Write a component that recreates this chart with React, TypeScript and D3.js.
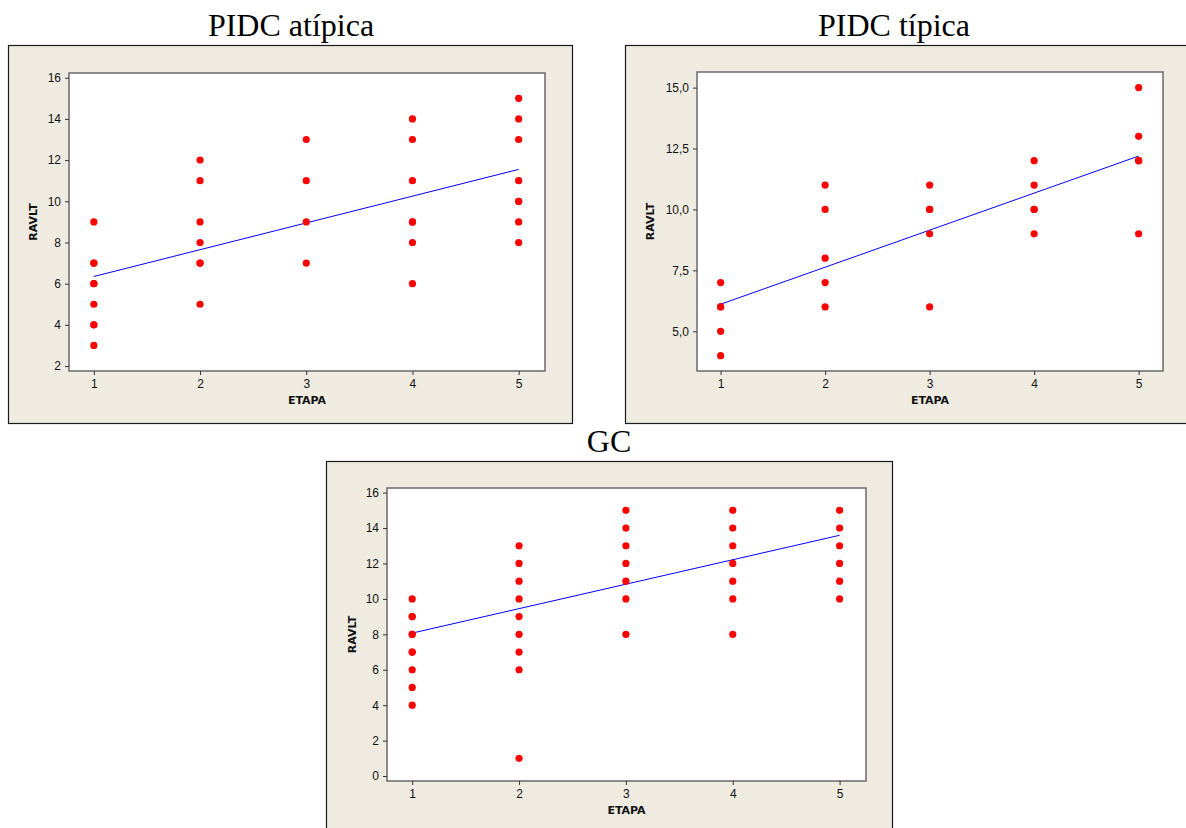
import * as d3 from "d3";
import {useEffect, useRef} from "react";

const WIDTH = 1186;
const HEIGHT = 828;

// RAVLT scores per ETAPA (repeated values = overlapping dots)
const atipicaEtapa = [1, 1, 1, 1, 1, 1, 1, 1, 1, 2, 2, 2, 2, 2, 2, 2, 3, 3, 3, 3, 4, 4, 4, 4, 4, 4, 4, 5, 5, 5, 5, 5, 5, 5, 5];
const atipicaRavlt = [9, 7, 7, 6, 6, 5, 4, 4, 3, 12, 11, 9, 8, 7, 7, 5, 13, 11, 9, 7, 14, 13, 11, 9, 9, 8, 6, 15, 14, 13, 11, 10, 10, 9, 8];
const atipicaFit = [5.05, 1.3]; // intercept, slope

const tipicaEtapa = [1, 1, 1, 1, 1, 2, 2, 2, 2, 2, 3, 3, 3, 3, 3, 4, 4, 4, 4, 4, 5, 5, 5, 5, 5];
const tipicaRavlt = [7, 6, 6, 5, 4, 11, 10, 8, 7, 6, 11, 10, 10, 9, 6, 12, 11, 10, 10, 9, 15, 13, 12, 12, 9];
const tipicaFit = [4.59, 1.52];

const gcEtapa = [1, 1, 1, 1, 1, 1, 1, 1, 1, 1, 2, 2, 2, 2, 2, 2, 2, 2, 2, 3, 3, 3, 3, 3, 3, 3, 4, 4, 4, 4, 4, 4, 4, 5, 5, 5, 5, 5, 5];
const gcRavlt = [10, 9, 9, 8, 8, 7, 7, 6, 5, 4, 13, 12, 11, 10, 9, 8, 7, 6, 1, 15, 14, 13, 12, 11, 10, 8, 15, 14, 13, 12, 11, 10, 8, 15, 14, 13, 12, 11, 10];
const gcFit = [6.69, 1.38];

const xTicks = [1, 2, 3, 4, 5];
const yTicksAtipica = [2, 4, 6, 8, 10, 12, 14, 16];
const yTicksTipica = [5, 7.5, 10, 12.5, 15];
const yTicksGc = [0, 2, 4, 6, 8, 10, 12, 14, 16];

const panels = [
    {
        title: "PIDC atípica", titleX: 291, titleY: 36,
        box: {x: 8, y: 45, w: 564, h: 378},
        plot: {x: 69, y: 73, w: 476, h: 298},
        xDomain: [0.766, 5.248], yDomain: [1.76, 16.23],
        yTicks: yTicksAtipica, fmt: (d) => d3.format("d")(d), yLabelOff: 32,
        xs: atipicaEtapa, ys: atipicaRavlt, fit: atipicaFit
    },
    {
        title: "PIDC típica", titleX: 894, titleY: 36,
        box: {x: 625, y: 45, w: 570, h: 378},
        plot: {x: 697, y: 72, w: 466, h: 299},
        xDomain: [0.774, 5.233], yDomain: [3.37, 15.64],
        yTicks: yTicksTipica, fmt: (d) => d3.format(".1f")(d).replace(".", ","), yLabelOff: 43,
        xs: tipicaEtapa, ys: tipicaRavlt, fit: tipicaFit
    },
    {
        title: "GC", titleX: 609, titleY: 452,
        box: {x: 326, y: 461, w: 566, h: 380},
        plot: {x: 387, y: 488, w: 479, h: 293},
        xDomain: [0.764, 5.247], yDomain: [-0.28, 16.26],
        yTicks: yTicksGc, fmt: (d) => d3.format("d")(d), yLabelOff: 31,
        xs: gcEtapa, ys: gcRavlt, fit: gcFit
    }
];

const App = () => {
    const ref = useRef(null);

    useEffect(() => {
        const svg = d3.select(ref.current);
        svg.selectAll("*").remove();

        svg.append("rect").attr("width", WIDTH).attr("height", HEIGHT).attr("fill", "white");

        panels.forEach((p) => {
            const g = svg.append("g");

            // title
            g.append("text")
                .attr("x", p.titleX).attr("y", p.titleY)
                .attr("text-anchor", "middle")
                .style("font-family", "'Liberation Serif', 'Times New Roman', serif")
                .style("font-size", "32px")
                .attr("fill", "black")
                .text(p.title);

            // beige outer frame
            g.append("rect")
                .attr("x", p.box.x + 0.5).attr("y", p.box.y + 0.5)
                .attr("width", p.box.w).attr("height", p.box.h)
                .attr("fill", "#efebe1").attr("stroke", "#1a1a1a").attr("stroke-width", 1.2);

            const x = d3.scaleLinear().domain(p.xDomain).range([p.plot.x, p.plot.x + p.plot.w]);
            const y = d3.scaleLinear().domain(p.yDomain).range([p.plot.y + p.plot.h, p.plot.y]);

            g.append("rect")
                .attr("x", p.plot.x).attr("y", p.plot.y)
                .attr("width", p.plot.w).attr("height", p.plot.h)
                .attr("fill", "white").attr("stroke", "#6a6a6a").attr("stroke-width", 1.5);

            const tickFont = (sel) => {
                sel.select(".domain").remove();
                sel.selectAll(".tick line").attr("stroke", "#333");
                sel.selectAll(".tick text")
                    .attr("fill", "#111")
                    .style("font-family", "Tahoma, 'Liberation Sans', Arial, sans-serif")
                    .style("font-size", "12px");
            };

            g.append("g")
                .attr("transform", `translate(${p.plot.x},0)`)
                .call(d3.axisLeft(y).tickValues(p.yTicks).tickFormat(p.fmt).tickSize(4).tickPadding(4))
                .call(tickFont);

            g.append("g")
                .attr("transform", `translate(0,${p.plot.y + p.plot.h})`)
                .call(d3.axisBottom(x).tickValues(xTicks).tickFormat(d3.format("d")).tickSize(4).tickPadding(4))
                .call(tickFont);

            // axis titles
            g.append("text")
                .attr("transform", `translate(${p.plot.x - p.yLabelOff},${p.plot.y + p.plot.h / 2}) rotate(-90)`)
                .attr("text-anchor", "middle")
                .style("font-family", "'DejaVu Sans', Verdana, sans-serif")
                .style("font-weight", "bold")
                .style("font-size", "11px")
                .attr("fill", "#111")
                .text("RAVLT");

            g.append("text")
                .attr("x", p.plot.x + p.plot.w / 2).attr("y", p.plot.y + p.plot.h + 33)
                .attr("text-anchor", "middle")
                .style("font-family", "'DejaVu Sans', Verdana, sans-serif")
                .style("font-weight", "bold")
                .style("font-size", "11px")
                .attr("fill", "#111")
                .text("ETAPA");

            // fitted line
            const line = d3.line().x((d) => x(d)).y((d) => y(p.fit[0] + p.fit[1] * d));
            g.append("path")
                .attr("d", line([1, 5]))
                .attr("fill", "none").attr("stroke", "#0000ff").attr("stroke-width", 1);

            // points
            g.selectAll("circle.pt")
                .data(p.xs.map((v, i) => [v, p.ys[i]]))
                .join("circle")
                .attr("class", "pt")
                .attr("cx", (d) => x(d[0]))
                .attr("cy", (d) => y(d[1]))
                .attr("r", 3.6)
                .attr("fill", "#ff0000");
        });
    }, []);

    return (
        <svg ref={ref} width={WIDTH} height={HEIGHT}
             style={{position: "absolute", left: 0, top: 0}}/>
    );
};

export default App;
